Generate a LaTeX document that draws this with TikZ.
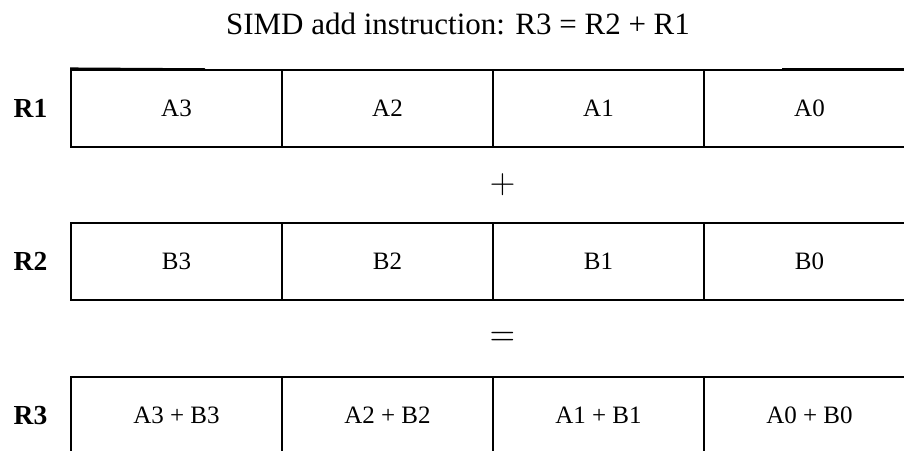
\documentclass[tikz,border=0pt]{standalone}
\usepackage[no-math]{fontspec}
\usepackage{graphicx}
\setmainfont{Liberation Serif}
\begin{document}
\begin{tikzpicture}[x=1pt,y=-1pt,
  cellbox/.style={draw, line width=1.6pt, minimum width=211pt, minimum height=77pt,
    inner sep=0pt, text depth=0pt, font=\fontsize{25}{30}\selectfont},
  reglabel/.style={inner sep=0pt, text depth=0pt, font=\fontsize{27.5}{33}\selectfont\bfseries},
  titletext/.style={inner sep=0pt, font=\fontsize{31}{37}\selectfont},
  opsign/.style={inner sep=0pt, font=\fontsize{25}{30}\selectfont},
  edgeseg/.style={line width=1.5pt}]
\clip (0,0) rectangle (904,450);
\useasboundingbox (0,0) rectangle (904,450);
% title
\node[titletext, anchor=base] (title) at (458,34) {SIMD add instruction: R3 = R2 + R1};
% R1 row
\node[reglabel] (l1) at (30.5,108.5) {R1};
\node[cellbox] (a3) at (176.5,108.5) {A3};
\node[cellbox] (a2) at (387.5,108.5) {A2};
\node[cellbox] (a1) at (598.5,108.5) {A1};
\node[cellbox] (a0) at (809.5,108.5) {A0};
% plus
\node[opsign] (plus) at (502.5,185) {\scalebox{1.42}{$+$}};
% R2 row
\node[reglabel] (l2) at (30.5,261.5) {R2};
\node[cellbox] (b3) at (176.5,261.5) {B3};
\node[cellbox] (b2) at (387.5,261.5) {B2};
\node[cellbox] (b1) at (598.5,261.5) {B1};
\node[cellbox] (b0) at (809.5,261.5) {B0};
% equals
\node[opsign] (eq) at (502.5,339) {\scalebox{1.4}[1.6]{$=$}};
% R3 row
\node[reglabel] (l3) at (30.5,415.5) {R3};
\node[cellbox] (c3) at (176.5,415.5) {A3 + B3};
\node[cellbox] (c2) at (387.5,415.5) {A2 + B2};
\node[cellbox] (c1) at (598.5,415.5) {A1 + B1};
\node[cellbox] (c0) at (809.5,415.5) {A0 + B0};
% thicker top segments
\coordinate (s1) at (205,69);
\coordinate (s2) at (782,69);
\coordinate (s3) at (904,69);
\draw[edgeseg] (a3.north west) ++(0,-1) -- (s1);
\draw[edgeseg] (s2) -- (s3);
\end{tikzpicture}
\end{document}
